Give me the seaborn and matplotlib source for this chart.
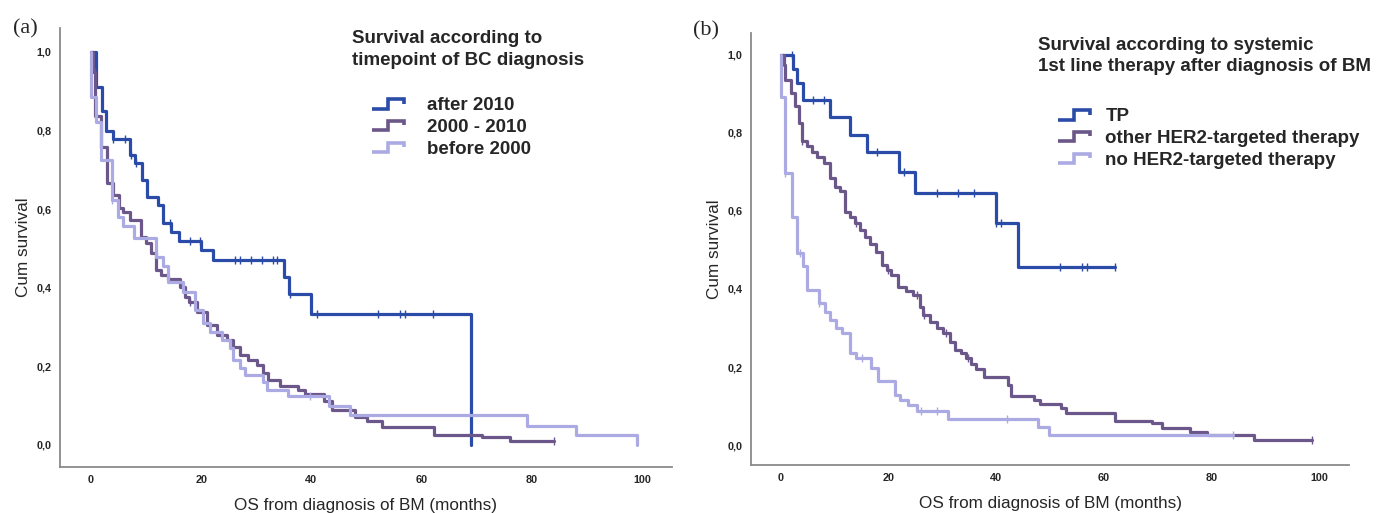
import matplotlib
matplotlib.use("Agg")
import matplotlib.pyplot as plt
from matplotlib.legend_handler import HandlerBase
from matplotlib.lines import Line2D
import numpy as np
import pandas as pd
import seaborn as sns

# ---- panel (a): survival by timepoint of BC diagnosis ----
a_labels = ["after 2010", "2000 - 2010", "before 2000"]

a_after_t = [0, 0.9, 2.1, 2.8, 4.0, 7.1, 8.0, 9.2, 10.1, 12.2, 13.0, 14.6, 16.0,
             19.9, 22.2, 35.0, 36.0, 40.0, 69.0]
a_after_s = [1.0, 0.91, 0.85, 0.80, 0.778, 0.738, 0.717, 0.674, 0.632, 0.611, 0.566,
             0.543, 0.519, 0.496, 0.471, 0.428, 0.384, 0.333, 0.0]
a_after_c = [4.1, 6.2, 7.2, 8.1, 14.3, 18.0, 19.8, 26.1, 27.0, 29.0, 31.0, 33.0, 33.8,
             36.1, 41.0, 52.0, 56.0, 57.0, 62.0]

a_mid_t = [0, 0.4, 0.8, 1.9, 3.0, 4.0, 5.1, 5.9, 7.1, 9.1, 10.0, 10.9, 11.8, 12.8, 13.9,
           16.2, 17.1, 17.8, 19.2, 21.1, 22.8, 24.6, 25.8, 27.0, 28.5, 30.1, 31.3, 32.2,
           34.3, 37.6, 38.8, 42.2, 43.7, 47.9, 50.0, 52.8, 62.2, 70.9, 76.0, 84.0]
a_mid_s = [1.0, 0.95, 0.837, 0.757, 0.666, 0.636, 0.602, 0.594, 0.573, 0.530, 0.515,
           0.489, 0.445, 0.433, 0.422, 0.403, 0.377, 0.365, 0.339, 0.305, 0.280, 0.267,
           0.250, 0.229, 0.216, 0.204, 0.182, 0.165, 0.150, 0.140, 0.131, 0.113, 0.090,
           0.072, 0.060, 0.047, 0.026, 0.020, 0.009, 0.009]
a_mid_c = [0.7, 1.9, 13.9, 18.0, 84.0]

a_before_t = [0, 0.1, 1.0, 1.9, 3.8, 5.0, 5.9, 7.8, 11.9, 13.1, 14.0, 16.8, 18.9, 20.4,
              21.6, 23.7, 25.2, 25.8, 27.0, 27.9, 31.3, 31.9, 35.8, 43.1, 47.0, 79.1,
              88.0, 99.0]
a_before_s = [1.0, 0.886, 0.823, 0.725, 0.623, 0.580, 0.557, 0.526, 0.478, 0.455, 0.415,
              0.390, 0.343, 0.310, 0.288, 0.267, 0.247, 0.216, 0.195, 0.178, 0.161,
              0.140, 0.125, 0.099, 0.076, 0.048, 0.025, 0.0]
a_before_c = [3.8, 39.7]

# ---- panel (b): survival by systemic 1st line therapy ----
b_labels = ["TP", "other HER2-targeted therapy", "no HER2-targeted therapy"]

b_tp_t = [0, 2.2, 3.0, 4.0, 9.0, 12.9, 16.0, 21.9, 24.9, 40.0, 44.0, 62.0]
b_tp_s = [1.0, 0.963, 0.927, 0.885, 0.840, 0.795, 0.752, 0.699, 0.647, 0.568, 0.457, 0.457]
b_tp_c = [2.0, 5.9, 8.0, 17.9, 22.8, 28.9, 32.9, 35.8, 40.0, 40.8, 51.9, 56.0, 56.8, 62.0]

b_other_t = [0, 0.5, 0.7, 1.8, 2.6, 3.4, 3.8, 4.8, 5.7, 6.6, 7.9, 9.1, 10.0, 10.9, 11.9,
             12.8, 13.7, 14.7, 15.6, 16.5, 17.7, 18.7, 19.6, 20.5, 21.8, 23.3, 24.6, 25.8,
             26.4, 27.6, 28.9, 30.1, 31.4, 32.3, 33.5, 34.4, 35.4, 36.3, 37.8, 42.2, 42.8,
             47.1, 48.1, 52.1, 52.9, 62.0, 69.0, 70.8, 76.0, 79.2, 87.9, 98.8]
b_other_s = [1.0, 0.974, 0.936, 0.902, 0.868, 0.825, 0.778, 0.767, 0.752, 0.739, 0.724,
             0.684, 0.662, 0.650, 0.598, 0.585, 0.570, 0.551, 0.534, 0.515, 0.496, 0.462,
             0.449, 0.436, 0.406, 0.396, 0.385, 0.355, 0.333, 0.316, 0.299, 0.286, 0.265,
             0.244, 0.235, 0.222, 0.209, 0.194, 0.175, 0.154, 0.126, 0.115, 0.105, 0.094,
             0.083, 0.062, 0.056, 0.045, 0.034, 0.026, 0.013, 0.013]
b_other_c = [3.8, 14.0, 19.9, 25.2, 26.6, 30.7, 34.7, 98.8]

b_no_t = [0, 0.05, 0.74, 2.0, 2.9, 4.1, 4.9, 7.1, 8.2, 9.1, 10.2, 11.4, 12.8, 14.0, 16.8,
          18.1, 21.1, 22.1, 23.6, 25.2, 31.0, 47.8, 49.9, 84.0]
b_no_s = [1.0, 0.893, 0.697, 0.584, 0.491, 0.459, 0.397, 0.363, 0.342, 0.321, 0.299,
          0.286, 0.235, 0.222, 0.197, 0.165, 0.128, 0.115, 0.103, 0.088, 0.068, 0.047,
          0.026, 0.026]
b_no_c = [0.74, 3.6, 7.1, 15.0, 26.1, 28.9, 42.0, 84.0]

colors = ["#2B4BA8", "#6B5789", "#ABAAE3"]
y_ticks = [0.0, 0.2, 0.4, 0.6, 0.8, 1.0]
x_ticks = [0, 20, 40, 60, 80, 100]


class StepHandler(HandlerBase):
    # little step-shaped legend key, like the SPSS output
    def create_artists(self, legend, orig_handle, xdescent, ydescent, width, height,
                       fontsize, trans):
        x0, L = 7.9, 23.0
        cy = height / 2 - ydescent
        xs = x0 - xdescent + np.array([0, 0.5, 0.5, 1.0, 1.0]) * L
        ys = cy + np.array([-3.4, -3.4, 3.4, 3.4, 0.3])
        ln = Line2D(xs, ys, color=orig_handle.get_color(), lw=2.6,
                    solid_joinstyle="miter", solid_capstyle="butt")
        ln.set_transform(trans)
        return [ln]


sns.set_style("white")
plt.rcParams["font.family"] = ["Liberation Sans", "DejaVu Sans"]

fig = plt.figure(figsize=(13.77, 5.13), dpi=100)
ax_a = fig.add_axes([0.04357, 0.08967, 0.44444, 0.85575])
ax_b = fig.add_axes([0.54539, 0.09357, 0.43428, 0.84211])


def draw_curves(ax, curves):
    for (t, s, c), col in zip(curves, colors):
        df = pd.DataFrame({"t": t, "s": s})
        sns.lineplot(data=df, x="t", y="s", ax=ax, color=col, lw=2.3,
                     drawstyle="steps-post", estimator=None, sort=False)
        t = np.asarray(t)
        s = np.asarray(s)
        cy = s[np.searchsorted(t, c, side="right") - 1]
        ax.plot(c, cy, ls="none", marker="|", ms=6, mew=1.0, color=col)


def style_axes(ax, xlim, ylim):
    ax.set_xlim(*xlim)
    ax.set_ylim(*ylim)
    ax.set_xticks(x_ticks)
    ax.set_yticks(y_ticks)
    ax.set_yticklabels([f"{v:.1f}".replace(".", ",") for v in y_ticks])
    ax.tick_params(length=0, labelsize=7.8, pad=6)
    for lab in ax.get_xticklabels() + ax.get_yticklabels():
        lab.set_fontweight("bold")
    for side in ["top", "right"]:
        ax.spines[side].set_visible(False)
    for side in ["left", "bottom"]:
        ax.spines[side].set_color("#8a8a8a")
        ax.spines[side].set_linewidth(1.3)
    ax.set_xlabel("OS from diagnosis of BM (months)", fontsize=12.3, labelpad=9)
    ax.set_ylabel("Cum survival", fontsize=12.3, labelpad=4)


draw_curves(ax_a, [(a_after_t, a_after_s, a_after_c),
                   (a_mid_t, a_mid_s, a_mid_c),
                   (a_before_t, a_before_s, a_before_c)])
draw_curves(ax_b, [(b_tp_t, b_tp_s, b_tp_c),
                   (b_other_t, b_other_s, b_other_c),
                   (b_no_t, b_no_s, b_no_c)])

style_axes(ax_a, (-5.6, 105.4), (-0.056, 1.061))
style_axes(ax_b, (-5.6, 105.6), (-0.051, 1.056))

# legend titles and keys
W, H = 1377, 513
fig.text(352 / W, 1 - 30 / H, "Survival according to\ntimepoint of BC diagnosis",
         fontsize=13.5, fontweight="bold", va="top", ha="left", linespacing=1.42)
fig.text(1038 / W, 1 - 37 / H, "Survival according to systemic\n1st line therapy after diagnosis of BM",
         fontsize=13.5, fontweight="bold", va="top", ha="left", linespacing=1.33)

for ax, labels, anchor, hl in [(ax_a, a_labels, (352 / W, 1 - 88 / H), 2.92),
                               (ax_b, b_labels, (1038 / W, 1 - 99 / H), 2.49)]:
    handles = [Line2D([], [], color=c) for c in colors]
    leg = ax.legend(handles, labels, loc="upper left", bbox_to_anchor=anchor,
                    bbox_transform=fig.transFigure, frameon=False, borderpad=0,
                    handlelength=hl, handletextpad=0.6, labelspacing=0.25,
                    prop={"size": 13.5, "weight": "bold"},
                    handler_map={Line2D: StepHandler()})

# panel letters
fig.text(13 / W, 1 - 29 / H, "(a)", fontsize=16, family="Liberation Serif", va="center")
fig.text(693 / W, 1 - 31 / H, "(b)", fontsize=16, family="Liberation Serif", va="center")

fig.savefig("out.png", dpi=100)
